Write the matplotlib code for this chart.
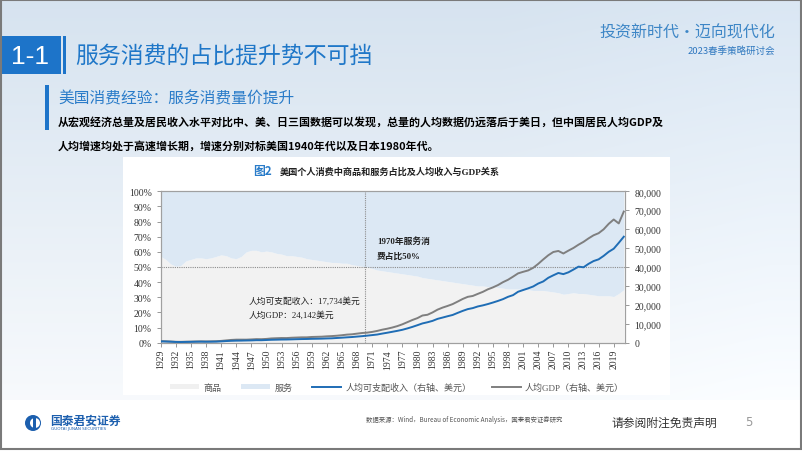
import numpy as np
import matplotlib
matplotlib.use('Agg')
import matplotlib.pyplot as plt
from matplotlib.patches import Rectangle, Circle, Patch
from matplotlib.lines import Line2D
from matplotlib.ticker import FuncFormatter, MultipleLocator

W, H = 802, 452

# ---- data ----
years = list(range(1929, 2022))

# goods share of personal consumption (%), services = 100 - goods
goods_share = [
    57, 55, 52, 50.5, 51, 54, 55, 56, 56, 55.5,
    56, 57, 58, 57.5, 56, 55.5, 57, 60, 61, 61,
    60, 60.5, 60, 59, 58.5, 57.5, 57.5, 57, 56.5, 55.5,
    55, 54.5, 54, 53.5, 53, 53, 52.5, 52.5, 51.5, 51,
    50.5, 50, 49, 48, 47.5, 47, 46.5, 46, 45.5, 45,
    44.5, 44, 43, 42.5, 42, 41.5, 41, 40.5, 40, 39.5,
    39, 38.5, 38, 37.5, 37.5, 37, 37, 36.5, 36, 35.5,
    35.5, 35.5, 35, 35, 34.5, 34.5, 34.5, 34, 33.5, 33,
    32, 32.5, 33, 32.5, 32.5, 32, 31.5, 31, 31, 31,
    30.5, 32.5, 35,
]

# per capita disposable income, USD
income_pc = [
    683, 620, 526, 392, 364, 409, 455, 513, 547, 505,
    539, 575, 690, 871, 984, 1066, 1097, 1163, 1207, 1324,
    1311, 1425, 1540, 1597, 1667, 1689, 1763, 1849, 1921, 1962,
    2044, 2089, 2145, 2243, 2324, 2493, 2654, 2837, 2998, 3232,
    3458, 3724, 4017, 4314, 4810, 5265, 5761, 6259, 6813, 7545,
    8349, 9249, 10185, 10803, 11527, 12592, 13280, 13992, 14658, 15759,
    16810, 17738, 18284, 19152, 19723, 20423, 21219, 22074, 23017, 24244,
    25141, 26920, 27828, 28716, 29712, 31263, 32370, 34296, 35617, 36841,
    36237, 37190, 38646, 40186, 39854, 41672, 43142, 44051, 45874, 48024,
    49661, 52763, 56003,
]

# per capita GDP, USD
gdp_pc = [
    857, 748, 621, 470, 449, 518, 571, 648, 710, 663,
    709, 772, 950, 1212, 1463, 1604, 1618, 1608, 1732, 1885,
    1852, 2001, 2262, 2368, 2473, 2448, 2620, 2722, 2829, 2836,
    3027, 3106, 3183, 3367, 3496, 3686, 3949, 4269, 4441, 4789,
    5118, 5324, 5698, 6218, 6869, 7387, 8013, 8760, 9710, 10846,
    12001, 12985, 14372, 14761, 15983, 17467, 18549, 19427, 20402, 21733,
    23114, 24232, 24700, 25807, 26871, 28208, 29222, 30447, 31988, 33256,
    34906, 36635, 37451, 38185, 39567, 41650, 43999, 46204, 47932, 48476,
    47139, 48650, 50066, 51784, 53291, 55124, 56763, 57867, 59915, 62805,
    65095, 63028, 69288,
]

xtick_years = list(range(1929, 2020, 3))

CJK = 'Noto Sans CJK SC'
SERIF = ['Liberation Serif', 'Noto Sans CJK SC']
plt.rcParams['font.family'] = [CJK, 'DejaVu Sans']

fig = plt.figure(figsize=(W / 100, H / 100), dpi=100)

# ---- background / slide overlay ----
bg = fig.add_axes([0, 0, 1, 1])
bg.set_xlim(0, W)
bg.set_ylim(H, 0)
bg.axis('off')

yy, xx = np.mgrid[0:H, 0:W]
top = np.array([0.84, 0.89, 0.94])
low = np.array([0.97, 0.98, 0.99])
t = np.clip(yy / 400.0, 0, 1)[..., None]
grad = top * (1 - t) + low * t
grad = grad + (np.clip((xx - 500) / 900.0, 0, 0.3) * 0.05)[..., None]
grad[yy > 400] = 1.0
grad = np.clip(grad, 0, 1)
bg.imshow(grad, extent=(0, W, H, 0), aspect='auto', zorder=0)

# frame lines
bg.add_patch(Rectangle((0.5, 0.5), W - 1.5, 449, fill=False, edgecolor='#7a7a7a', lw=1.5, zorder=5))

# section tag
bg.add_patch(Rectangle((0, 37), 61, 38, facecolor='#1d74c9', edgecolor='none', zorder=2))
bg.add_patch(Rectangle((63, 37), 3, 38, facecolor='#1d74c9', edgecolor='none', zorder=2))
bg.text(30, 57, '1-1', color='white', fontsize=19, ha='center', va='center',
        family='Liberation Sans', zorder=3)
bg.text(75, 56, '服务消费的占比提升势不可挡', color='#1f77c8', fontsize=16.5,
        ha='left', va='center', zorder=3)

# subtitle
bg.add_patch(Rectangle((45, 86), 3.5, 45, facecolor='#1d74c9', edgecolor='none', zorder=2))
bg.text(58, 99, '美国消费经验：服务消费量价提升', color='#2a7cc9', fontsize=11.3,
        ha='left', va='center', zorder=3)
bg.text(58, 122, '从宏观经济总量及居民收入水平对比中、美、日三国数据可以发现，总量的人均数据仍远落后于美日，但中国居民人均GDP及',
        color='black', fontsize=7.9, fontweight='bold', ha='left', va='center', zorder=3)
bg.text(58, 146, '人均增速均处于高速增长期，增速分别对标美国1940年代以及日本1980年代。',
        color='black', fontsize=7.9, fontweight='bold', ha='left', va='center', zorder=3)

# top-right slogan
bg.text(775, 33, '投资新时代·迈向现代化', color='#3d86c6', fontsize=11.5,
        ha='right', va='center', style='italic', zorder=3)
bg.text(775, 51, '2023春季策略研讨会', color='#2f78bf', fontsize=6.8,
        ha='right', va='center', zorder=3)

# white chart panel
bg.add_patch(Rectangle((123, 158), 547, 238, facecolor='white', edgecolor='none', zorder=2))

# footer
bg.add_patch(Circle((33, 424), 8, facecolor='#1c5fae', edgecolor='none', zorder=3))
bg.add_patch(Circle((35, 424), 5, facecolor='white', edgecolor='none', zorder=3))
bg.add_patch(Rectangle((33, 418.5), 2.5, 11, facecolor='#1c5fae', edgecolor='none', zorder=3))
bg.text(50, 421, '国泰君安证券', color='#1c5fae', fontsize=8.5, fontweight='bold',
        ha='left', va='center', zorder=3)
bg.text(51, 429.5, 'GUOTAI JUNAN SECURITIES', color='#1c5fae', fontsize=3,
        ha='left', va='center', family='DejaVu Sans', zorder=3)
bg.text(366, 420, '数据来源：Wind，Bureau of Economic Analysis，国泰君安证券研究', color='#555555',
        fontsize=4.6, ha='left', va='center', zorder=3)
bg.text(611, 423, '请参阅附注免责声明', color='#333333', fontsize=8.5,
        ha='left', va='center', zorder=3)
bg.text(749, 423, '5', color='#999999', fontsize=8.5, ha='center', va='center',
        family='DejaVu Sans', zorder=3)

# chart title
bg.text(253, 172, '图2', color='#2a7cc9', fontsize=8.5, fontweight='bold',
        ha='left', va='center', zorder=3)
bg.text(280, 172, '美国个人消费中商品和服务占比及人均收入与GDP关系', color='#222222',
        fontsize=6.6, fontweight='bold', ha='left', va='center', family=SERIF, zorder=3)

# ---- chart ----
x0, x1, y0, y1 = 160.7, 625.3, 192.3, 343.7
ax = fig.add_axes([x0 / W, 1 - y1 / H, (x1 - x0) / W, (y1 - y0) / H])
ax.fill_between(years, 0, goods_share, color='#f2f2f2', lw=0, zorder=1)
ax.fill_between(years, goods_share, 100, color='#dce8f4', lw=0, zorder=1)
ax.axhline(50, color='#8c8c8c', lw=0.8, ls=(0, (1, 1)), zorder=2)
ax.axvline(1969.6, color='#8c8c8c', lw=0.8, ls=(0, (1, 1)), zorder=2)
ax.set_xlim(1929, 2021.3)
ax.set_ylim(0, 100)
ax.yaxis.set_major_locator(MultipleLocator(10))
ax.yaxis.set_major_formatter(FuncFormatter(lambda v, p: f'{v:.0f}%'))
ax.set_xticks(xtick_years)
ax.set_xticklabels([str(y) for y in xtick_years], rotation=90)
for s in ['left', 'bottom', 'right', 'top']:
    ax.spines[s].set_color('#a0a0a0')
    ax.spines[s].set_linewidth(0.8)
ax.tick_params(axis='both', colors='#888888', labelcolor='#333333', labelsize=7,
               length=3, width=0.6)
ax.tick_params(axis='x', pad=1.5)
for lab in ax.get_xticklabels() + ax.get_yticklabels():
    lab.set_family(SERIF)

ax2 = ax.twinx()
ax2.plot(years, gdp_pc, color='#7f7f7f', lw=1.4, zorder=3)
ax2.plot(years, income_pc, color='#1f6db5', lw=1.4, zorder=4)
ax2.set_ylim(0, 80000)
ax2.yaxis.set_major_locator(MultipleLocator(10000))
ax2.yaxis.set_major_formatter(FuncFormatter(lambda v, p: f'{v:,.0f}'))
for s in ['left', 'bottom', 'right', 'top']:
    ax2.spines[s].set_color('#a0a0a0')
    ax2.spines[s].set_linewidth(0.8)
ax2.tick_params(axis='y', colors='#888888', labelcolor='#333333', labelsize=7,
                length=3, width=0.6)
for lab in ax2.get_yticklabels():
    lab.set_family(SERIF)

# annotations
fig.text(377 / W, 1 - 242 / H, '1970年服务消', fontsize=6.3, fontweight='bold',
         color='#222222', ha='left', va='center', family=SERIF)
fig.text(377 / W, 1 - 257 / H, '费占比50%', fontsize=6.3, fontweight='bold',
         color='#222222', ha='left', va='center', family=SERIF)
fig.text(249 / W, 1 - 301 / H, '人均可支配收入：17,734美元', fontsize=6.3,
         color='#222222', ha='left', va='center', family=SERIF)
fig.text(249 / W, 1 - 315 / H, '人均GDP：24,142美元', fontsize=6.3,
         color='#222222', ha='left', va='center', family=SERIF)

# legend
handles = [
    Patch(facecolor='#f0f0f0', edgecolor='none'),
    Patch(facecolor='#dce8f4', edgecolor='none'),
    Line2D([], [], color='#1f6db5', lw=1.4),
    Line2D([], [], color='#7f7f7f', lw=1.4),
]
labels = ['商品', '服务', '人均可支配收入（右轴、美元）', '人均GDP（右轴、美元）']
leg = fig.legend(handles, labels, loc='center', bbox_to_anchor=(397 / W, 1 - 388 / H),
                 ncol=4, frameon=False, handlelength=3.2, handleheight=0.6,
                 columnspacing=2.2, handletextpad=0.5,
                 prop={'family': SERIF, 'size': 6.5})
for txt in leg.get_texts():
    txt.set_color('#555555')

fig.savefig('out.png', dpi=100)
